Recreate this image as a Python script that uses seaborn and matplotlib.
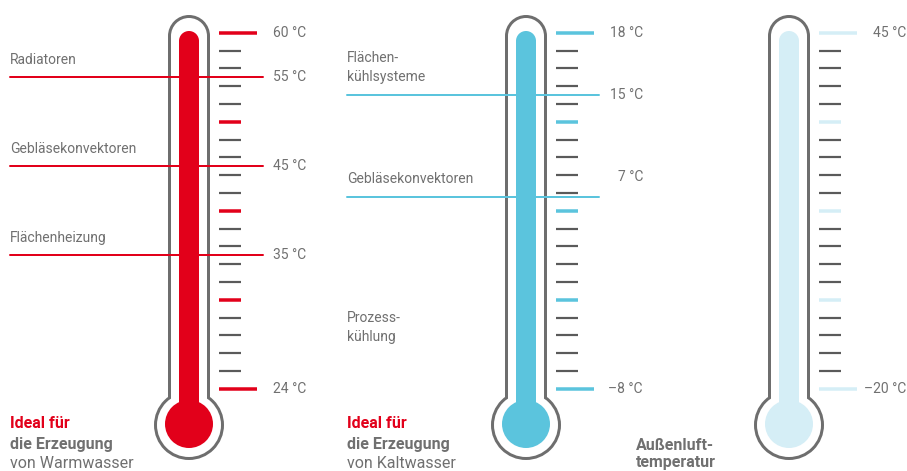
import matplotlib
matplotlib.use("Agg")
import matplotlib.pyplot as plt
from matplotlib.patches import Circle, Rectangle
import seaborn as sns
import pandas as pd

# ---------------- data ----------------
warm_scale = [60, 55, 45, 35, 24]
cold_scale = [18, 15, 7, -8]
air_scale = [45, -20]

warm_apps = ["Radiatoren", "Gebläsekonvektoren", "Flächenheizung"]
warm_app_temps = [55, 45, 35]
cold_apps = [["Flächen-", "kühlsysteme"], ["Gebläsekonvektoren"]]
cold_app_temps = [15, 7]
cold_extra_app = ["Prozess-", "kühlung"]

captions_warm = ["Ideal für", "die Erzeugung", "von Warmwasser"]
captions_cold = ["Ideal für", "die Erzeugung", "von Kaltwasser"]
captions_air = ["Außenluft-", "temperatur"]

# ---------------- style / layout ----------------
sns.set_theme(style="white")
plt.rcParams["font.family"] = ["Roboto", "DejaVu Sans"]

RED = "#e2001a"
BLUE = "#5bc4dd"
LIGHT = "#d5eef6"
GRAY = "#6e6e6e"
TICKGRAY = "#5a5a5a"
TEXTGRAY = "#707070"
PX = 0.72  # points per pixel at 100 dpi

TICK_Y0, TICK_DY = 32.8, 17.8
def ty(i):
    return TICK_Y0 + i * TICK_DY

# temperature -> scale position (tick index) per thermometer
warm_pos = {60: 0, 55: 2.5, 45: 7.5, 35: 12.5, 24: 20}
cold_pos = {18: 0, 15: 3.5, 7: 9.2, -8: 20}
cold_label_pos = {18: 0, 15: 3.5, 7: 8.1, -8: 20}
air_pos = {45: 0, -20: 20}

fig = plt.figure(figsize=(9.07, 4.71), dpi=100)
ax = fig.add_axes([0, 0, 1, 1])
ax.set_xlim(0, 907)
ax.set_ylim(471, 0)
ax.set_axis_off()


def fmt(t):
    s = f"{abs(t)} °C"
    return ("–" + s) if t < 0 else s


def draw_thermo(cx, color, temps, posmap, labelmap):
    top_c, bulb_c = 36, 425
    for r_t, r_b, half, fc in [(21, 35, 21, GRAY), (18, 32, 18, "white")]:
        ax.add_patch(Circle((cx, bulb_c), r_b, fc=fc, ec="none", zorder=2))
        ax.add_patch(Rectangle((cx - half, top_c), 2 * half, bulb_c - top_c, fc=fc, ec="none", zorder=2))
        ax.add_patch(Circle((cx, top_c), r_t, fc=fc, ec="none", zorder=2))
    ax.add_patch(Circle((cx, 424), 24, fc=color, ec="none", zorder=3))
    ax.add_patch(Rectangle((cx - 10, 41), 20, 424 - 41, fc=color, ec="none", zorder=3))
    ax.add_patch(Circle((cx, 41), 10, fc=color, ec="none", zorder=3))
    # scale ticks
    for i in range(21):
        major = i % 5 == 0
        end = 68 if i in (0, 20) else 52
        ax.hlines(ty(i), cx + 30, cx + end, colors=color if major else TICKGRAY,
                  linewidth=(3.5 if major else 2.2) * PX, capstyle="butt", zorder=4)
    # scale labels
    for t in temps:
        ax.text(cx + 117, ty(labelmap[t]), fmt(t), ha="right", va="center",
                fontsize=10, color=TEXTGRAY, zorder=5)


draw_thermo(189, RED, warm_scale, warm_pos, warm_pos)
draw_thermo(526, BLUE, cold_scale, cold_pos, cold_label_pos)
draw_thermo(789, LIGHT, air_scale, air_pos, air_pos)

# application lines via seaborn
rows = []
for k, t in enumerate(warm_app_temps):
    y = ty(warm_pos[t])
    rows += [dict(x=10, y=y, u=f"w{k}", kind="warm"), dict(x=263, y=y, u=f"w{k}", kind="warm")]
for k, t in enumerate(cold_app_temps):
    y = ty(cold_pos[t])
    rows += [dict(x=347, y=y, u=f"c{k}", kind="cold"), dict(x=599, y=y, u=f"c{k}", kind="cold")]
df = pd.DataFrame(rows)
sns.lineplot(data=df, x="x", y="y", units="u", hue="kind", estimator=None,
             palette={"warm": RED, "cold": BLUE}, linewidth=2 * PX, legend=False,
             ax=ax, zorder=6)
ax.set_xlim(0, 907)
ax.set_ylim(471, 0)
ax.set_axis_off()

# application labels
for name, t in zip(warm_apps, warm_app_temps):
    ax.text(10, ty(warm_pos[t]) - 17, name, ha="left", va="center", fontsize=10, color=TEXTGRAY)
for lines, t in zip(cold_apps, cold_app_temps):
    base = ty(cold_pos[t]) - 18
    for j, ln in enumerate(reversed(lines)):
        ax.text(347, base - j * 19, ln, ha="left", va="center", fontsize=10, color=TEXTGRAY)
for j, ln in enumerate(cold_extra_app):
    ax.text(347, 318 + j * 19, ln, ha="left", va="center", fontsize=10, color=TEXTGRAY)

# captions
def caption(x, lines, ys, first_red):
    for j, (ln, y) in enumerate(zip(lines, ys)):
        if first_red and j == 0:
            c, w = RED, "bold"
        elif j == len(lines) - 1 and first_red:
            c, w = TEXTGRAY, "normal"
        else:
            c, w = TEXTGRAY, "bold"
        ax.text(x, y, ln, ha="left", va="center", fontsize=11.5, color=c, fontweight=w)

caption(10, captions_warm, [424, 444, 463], True)
caption(347, captions_cold, [424, 444, 463], True)
caption(636, captions_air, [445, 463], False)

fig.savefig("out.png", dpi=100)
